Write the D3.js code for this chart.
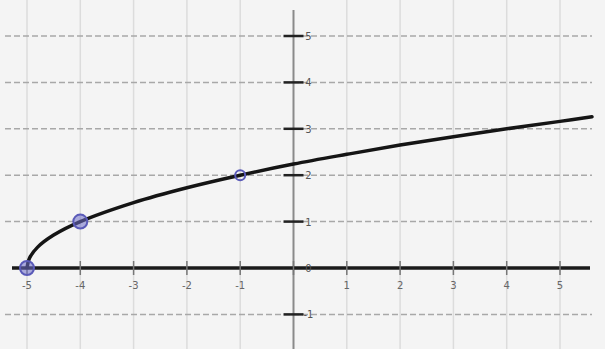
<!DOCTYPE html>
<html>
<head>
<meta charset="utf-8">
<script src="https://cdn.jsdelivr.net/npm/d3@7"></script>
<style>
  body { margin: 0; background: #f4f4f4; }
  svg { display: block; }
</style>
</head>
<body>
<svg class="chart"></svg>
<script>
// tick values on both axes
var xTicks = [-5, -4, -3, -2, -1, 0, 1, 2, 3, 4, 5];
var yTicks = [-1, 0, 1, 2, 3, 4, 5];

// curve
var curveX = [-5, -4.95, -4.8, -4.5, -4, -3, -2, -1, 0, 1, 2, 3, 4, 5, 5.6];
var curveY = [0, 0.22, 0.45, 0.71, 1, 1.41, 1.73, 2, 2.24, 2.45, 2.65, 2.83, 3, 3.16, 3.26];

// marked points
var pointX = [-5, -4, -1];
var pointY = [0, 1, 2];

function show() {
    'use strict';

    var width = 605, height = 349;

    var chart = d3.select(".chart")
        .attr("width", width)
        .attr("height", height);

    var scaleX = d3.scaleLinear().domain([-5, 5]).range([27, 560]);
    var scaleY = d3.scaleLinear().domain([0, 5]).range([268, 36]);

    // vertical grid (faint)
    chart.append("g").selectAll("line")
        .data(xTicks.filter(function(d) { return d !== 0; }))
        .enter().append("line")
        .attr("x1", function(d) { return scaleX(d); })
        .attr("x2", function(d) { return scaleX(d); })
        .attr("y1", 0)
        .attr("y2", height)
        .attr("stroke", "#dcdcdc")
        .attr("stroke-width", 1.5);

    // horizontal dashed grid
    chart.append("g").selectAll("line")
        .data(yTicks.filter(function(d) { return d !== 0; }))
        .enter().append("line")
        .attr("x1", 5)
        .attr("x2", 592)
        .attr("y1", function(d) { return scaleY(d); })
        .attr("y2", function(d) { return scaleY(d); })
        .attr("stroke", "#a8a8a8")
        .attr("stroke-width", 1.5)
        .attr("stroke-dasharray", "6,3");

    // y axis
    chart.append("line")
        .attr("x1", scaleX(0)).attr("x2", scaleX(0))
        .attr("y1", 10).attr("y2", height)
        .attr("stroke", "#8a8a8a")
        .attr("stroke-width", 2);

    // y ticks
    chart.append("g").selectAll("line")
        .data(yTicks.filter(function(d) { return d !== 0; }))
        .enter().append("line")
        .attr("x1", scaleX(0) - 10)
        .attr("x2", scaleX(0) + 10)
        .attr("y1", function(d) { return scaleY(d); })
        .attr("y2", function(d) { return scaleY(d); })
        .attr("stroke", "#222")
        .attr("stroke-width", 2.5);

    // x axis
    chart.append("line")
        .attr("x1", 12).attr("x2", 590)
        .attr("y1", scaleY(0)).attr("y2", scaleY(0))
        .attr("stroke", "#1a1a1a")
        .attr("stroke-width", 3.5);

    // x ticks
    chart.append("g").selectAll("line")
        .data(xTicks)
        .enter().append("line")
        .attr("x1", function(d) { return scaleX(d); })
        .attr("x2", function(d) { return scaleX(d); })
        .attr("y1", scaleY(0) - 7)
        .attr("y2", scaleY(0) + 7)
        .attr("stroke", "#777")
        .attr("stroke-width", 1.5);

    // x labels
    chart.append("g").selectAll("text")
        .data(xTicks.filter(function(d) { return d !== 0; }))
        .enter().append("text")
        .attr("x", function(d) { return scaleX(d); })
        .attr("y", scaleY(0) + 21)
        .attr("text-anchor", "middle")
        .attr("font-family", "DejaVu Sans, sans-serif")
        .attr("font-size", 10)
        .attr("fill", "#666")
        .text(function(d) { return d; });

    // y labels
    chart.append("g").selectAll("text")
        .data(yTicks)
        .enter().append("text")
        .attr("x", scaleX(0) + 15)
        .attr("y", function(d) { return scaleY(d) + 4; })
        .attr("text-anchor", "middle")
        .attr("font-family", "DejaVu Sans, sans-serif")
        .attr("font-size", 10)
        .attr("fill", "#555")
        .text(function(d) { return d; });

    // the curve
    var line = d3.line()
        .x(function(d) { return scaleX(d[0]); })
        .y(function(d) { return scaleY(d[1]); })
        .curve(d3.curveMonotoneY);

    chart.append("path")
        .datum(d3.zip(curveX, curveY))
        .attr("d", line.curve(d3.curveCatmullRom))
        .attr("fill", "none")
        .attr("stroke", "#151515")
        .attr("stroke-width", 3.5)
        .attr("stroke-linecap", "round");

    // marked points
    chart.append("g").selectAll("circle")
        .data(d3.zip(pointX, pointY))
        .enter().append("circle")
        .attr("cx", function(d) { return scaleX(d[0]); })
        .attr("cy", function(d) { return scaleY(d[1]); })
        .attr("r", function(d, i) { return i === 2 ? 5 : 7; })
        .attr("fill", function(d, i) { return i === 2 ? "none" : "rgba(110,110,200,0.55)"; })
        .attr("stroke", "#5a5ab8")
        .attr("stroke-width", 2);
}

show();
</script>
</body>
</html>
